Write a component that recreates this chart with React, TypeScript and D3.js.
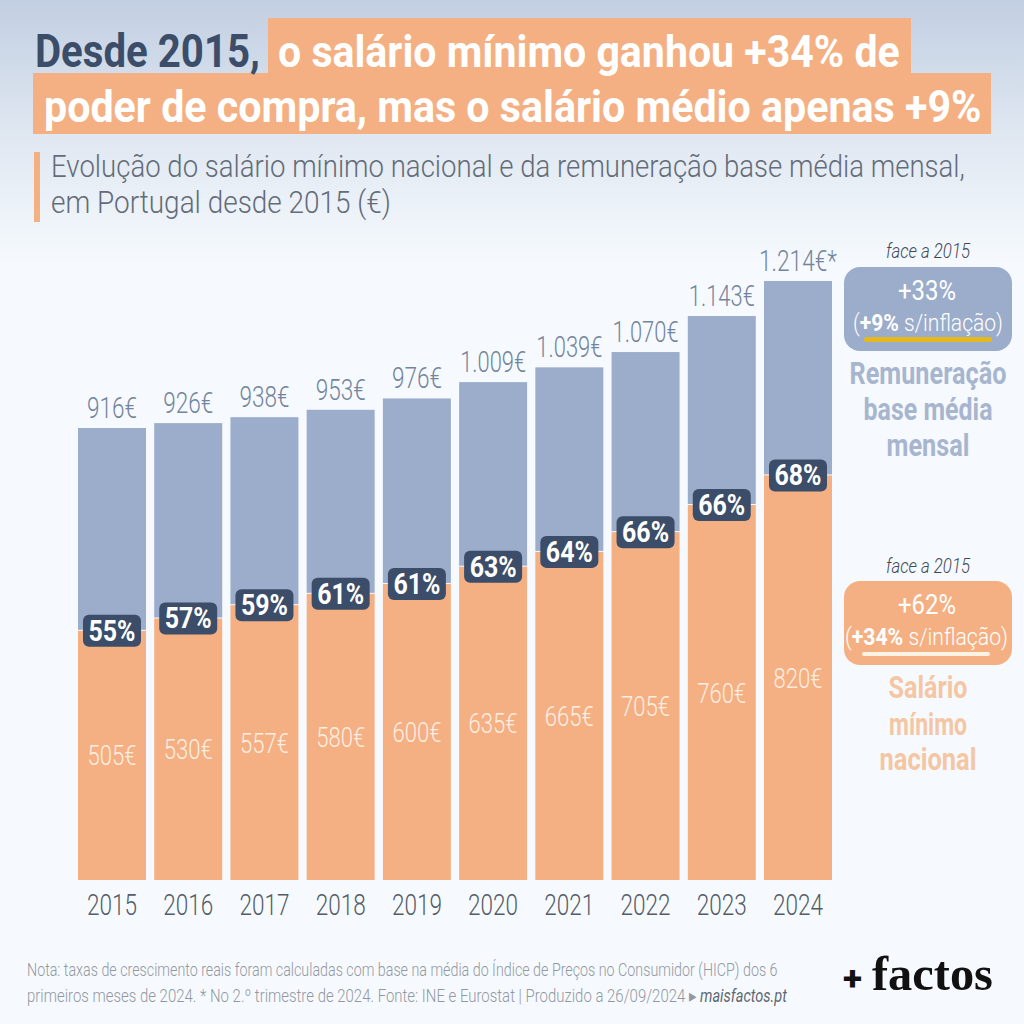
import * as d3 from 'd3'

const years = ['2015', '2016', '2017', '2018', '2019', '2020', '2021', '2022', '2023', '2024']
const minWage = [505, 530, 557, 580, 600, 635, 665, 705, 760, 820]
const avgWage = [916, 926, 938, 953, 976, 1009, 1039, 1070, 1143, 1214]
const shares = [55, 57, 59, 61, 61, 63, 64, 66, 66, 68]
const avgLabels = ['916€', '926€', '938€', '953€', '976€', '1.009€', '1.039€', '1.070€', '1.143€', '1.214€*']

const BLUE = '#9badcb'
const ORANGE = '#f4b083'
const NAVY = '#3b4d68'
const FONT = 'Roboto, "Liberation Sans", sans-serif'

const x = d3.scaleBand<string>().domain(years).range([78, 832]).paddingInner(0.108).paddingOuter(0)
const y = d3.scaleLinear().domain([0, 1214]).range([880, 281])

const ctx = document.createElement('canvas').getContext('2d')!
function measure(s: string, size: number, weight: number, italic = false, font = FONT) {
  ctx.font = `${italic ? 'italic ' : ''}${weight} ${size}px ${font}`
  return ctx.measureText(s).width
}

// text squeezed to a set width, the original uses a condensed DIN that isn't installed
function T({ x, y, w, size, fill, weight = 400, italic = false, anchor = 'start', font = FONT, text }: any) {
  const sx = w / measure(text, size, weight, italic, font)
  return (
    <text transform={`translate(${x},${y}) scale(${sx},1)`} textAnchor={anchor} fontSize={size}
      fontWeight={weight} fontStyle={italic ? 'italic' : 'normal'} fontFamily={font} fill={fill}>
      {text}
    </text>
  )
}

// "(+9% s/inflação)" line, bold number inside a light line
function Real({ x, y, w, pct }: any) {
  const size = 24
  const rest = ' s/inflação)'
  const natural = measure('(', size, 300) + measure(pct, size, 700) + measure(rest, size, 300)
  return (
    <text transform={`translate(${x},${y}) scale(${w / natural},1)`} fontSize={size} fontWeight={300} fontFamily={FONT}
      fill="#fff" style={{ whiteSpace: 'pre' }}>
      (<tspan fontWeight={700}>{pct}</tspan>{rest}
    </text>
  )
}

export default function App() {
  return (
    <svg width={1024} height={1024} viewBox="0 0 1024 1024" style={{ position: 'absolute', left: 0, top: 0 }}>
      <defs>
        <linearGradient id="bg" x1="0" x2="0" y1="0" y2="1">
          <stop offset="0" stopColor="#c2cfe2" />
          <stop offset="0.13" stopColor="#dfe7f1" />
          <stop offset="0.26" stopColor="#f6fafe" />
          <stop offset="1" stopColor="#f6fafe" />
        </linearGradient>
      </defs>
      <rect width={1024} height={1024} fill="url(#bg)" />

      {/* title */}
      <rect x={268} y={18} width={643} height={56} fill={ORANGE} />
      <rect x={33} y={73} width={958} height={61} fill={ORANGE} />
      <T x={35} y={67} w={225} size={46} weight={700} fill={NAVY} text="Desde 2015," />
      <T x={278} y={67} w={622} size={45} weight={700} fill="#fff" text="o salário mínimo ganhou +34% de" />
      <T x={44} y={122} w={938} size={45} weight={700} fill="#fff" text="poder de compra, mas o salário médio apenas +9%" />

      {/* subtitle */}
      <rect x={34} y={152} width={6} height={70} fill={ORANGE} />
      <T x={51} y={177} w={914} size={31} weight={300} fill="#636c78" text="Evolução do salário mínimo nacional e da remuneração base média mensal," />
      <T x={51} y={213} w={340} size={31} weight={300} fill="#636c78" text="em Portugal desde 2015 (€)" />

      {/* bars */}
      {years.map((yr, i) => {
        const bx = x(yr)!
        const bw = x.bandwidth()
        const cx = bx + bw / 2
        const top = y(avgWage[i])
        const mid = y(minWage[i])
        const lab = avgLabels[i]
        const labW = lab.length === 4 ? 50 : lab.length === 6 ? 66 : 78
        return (
          <g key={yr}>
            <rect x={bx} y={top} width={bw} height={mid - top - 1} fill={BLUE} />
            <rect x={bx} y={mid} width={bw} height={y(0) - mid} fill={ORANGE} />
            <T x={cx} y={top - 10} w={labW} size={29} weight={300} anchor="middle" fill="#73849c" text={lab} />
            <T x={cx} y={(mid + y(0)) / 2 + 10} w={49} size={27} weight={300} anchor="middle" fill="#fdeee2" text={`${minWage[i]}€`} />
            <rect x={cx - 29} y={mid - 16} width={58} height={32} rx={6} fill={NAVY} />
            <T x={cx} y={mid + 10} w={47} size={29} weight={700} anchor="middle" fill="#fff" text={`${shares[i]}%`} />
            <T x={cx} y={915} w={50} size={30} weight={300} anchor="middle" fill="#545c68" text={yr} />
          </g>
        )
      })}

      {/* side panel, remuneração */}
      <T x={928} y={258} w={84} size={20} weight={300} italic anchor="middle" fill="#3f4856" text="face a 2015" />
      <rect x={844} y={267} width={168} height={84} rx={16} fill={BLUE} />
      <T x={927} y={300} w={58} size={27} anchor="middle" fill="#fff" text="+33%" />
      <rect x={864} y={337} width={128} height={5} rx={2.5} fill="#e3b91f" />
      <Real x={853} y={331} w={150} pct="+9%" />
      <T x={928} y={384} w={157} size={32} weight={700} anchor="middle" fill="#a7b6ce" text="Remuneração" />
      <T x={928} y={420} w={129} size={32} weight={700} anchor="middle" fill="#a7b6ce" text="base média" />
      <T x={928} y={456} w={83} size={32} weight={700} anchor="middle" fill="#a7b6ce" text="mensal" />

      {/* side panel, salário mínimo */}
      <T x={928} y={573} w={84} size={20} weight={300} italic anchor="middle" fill="#3f4856" text="face a 2015" />
      <rect x={844} y={581} width={168} height={84} rx={16} fill={ORANGE} />
      <T x={927} y={614} w={58} size={27} anchor="middle" fill="#fff" text="+62%" />
      <rect x={862} y={652} width={128} height={4} rx={2} fill="#fdf3e4" />
      <Real x={845} y={645} w={163} pct="+34%" />
      <T x={928} y={698} w={79} size={32} weight={700} anchor="middle" fill="#f5c6a3" text="Salário" />
      <T x={928} y={735} w={78} size={32} weight={700} anchor="middle" fill="#f5c6a3" text="mínimo" />
      <T x={928} y={770} w={97} size={32} weight={700} anchor="middle" fill="#f5c6a3" text="nacional" />

      {/* footer */}
      <T x={27} y={976} w={751} size={18} weight={300} fill="#9298a1" text="Nota: taxas de crescimento reais foram calculadas com base na média do Índice de Preços no Consumidor (HICP) dos 6" />
      <T x={27} y={1002} w={670} size={18} weight={300} fill="#9298a1" text="primeiros meses de 2024. * No 2.º trimestre de 2024. Fonte: INE e Eurostat | Produzido a 26/09/2024 ▸" />
      <T x={700} y={1002} w={87} size={18} italic fill="#5f6772" text="maisfactos.pt" />
      <T x={843} y={990} w={19} size={34} weight={800} font={'Roboto, sans-serif'} fill="#111" text="+" />
      <T x={872} y={990} w={121} size={48} weight={700} font={'"Liberation Serif", serif'} fill="#111" text="factos" />
    </svg>
  )
}
